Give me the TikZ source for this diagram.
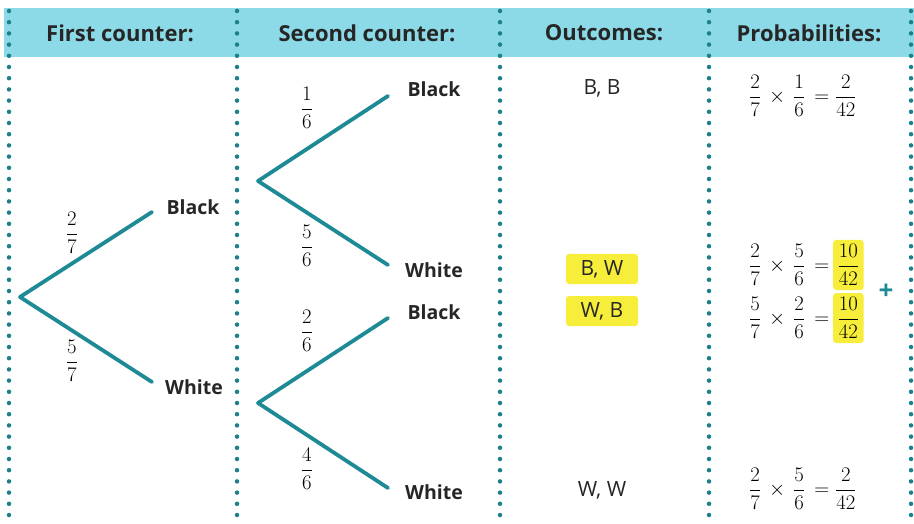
\documentclass[tikz,border=0pt]{standalone}
\usepackage[no-math]{fontspec}
\setmainfont{Open Sans}
\usepackage{amsmath}
\definecolor{band}{RGB}{140,218,232}
\definecolor{dotc}{RGB}{28,128,140}
\definecolor{branch}{RGB}{30,138,150}
\definecolor{hl}{RGB}{246,238,58}
\newcommand{\eqtimes}{\mathbin{\,\times\,}}
\newcommand{\eqeq}{\mathrel{\,=\,}}
\tikzset{
  hdr/.style={font=\fontsize{22}{24}\selectfont\bfseries, text=black!85},
  lbl/.style={font=\fontsize{19.5}{22}\selectfont\bfseries, text=black!85},
  outc/.style={font=\fontsize{21}{23}\selectfont, text=black!85},
  hlbox/.style={fill=hl, rounded corners=3pt},
  frc/.style={font=\fontsize{22}{24}\selectfont, inner sep=1pt},
  eq/.style={font=\fontsize{22.5}{24}\selectfont, inner sep=1pt},
  br/.style={draw=branch, line width=3.8pt, line cap=round, line join=round},
  dotline/.style={draw=dotc, line width=4.5pt, line cap=round, dash pattern=on 0pt off 11.2pt},
}
\begin{document}
\begin{tikzpicture}[x=1pt,y=-1pt]
\useasboundingbox (0,0) rectangle (914,524);
\fill[white] (0,0) rectangle (914,524);
\fill[band] (4,8) rectangle (914,57);
\foreach \xx/\nm in {9/a,237/b,500/c,709/d,911/e}{
  \coordinate (top\nm) at (\xx,11);
  \coordinate (bot\nm) at (\xx,524);
  \draw[dotline] (top\nm) -- (bot\nm);
}
\node[hdr] (h1) at (120,33) {First counter:};
\node[hdr] (h2) at (367,33) {Second counter:};
\node[hdr] (h3) at (604,33) {Outcomes:};
\node[hdr] (h4) at (809,33) {Probabilities:};
% first tree
\coordinate (r1) at (20,297);
\coordinate (e1) at (152,212);
\coordinate (e2) at (152,382);
\draw[br] (e1) -- (r1) -- (e2);
\node[lbl] (l1) at (193,207) {Black};
\node[lbl] (l2) at (194,387) {White};
\node[frc] (f1) at (72,233) {$\dfrac{2}{7}$};
\node[frc] (f2) at (72,361) {$\dfrac{5}{7}$};
% second tree upper
\coordinate (r2) at (258,181);
\coordinate (e3) at (388,96);
\coordinate (e4) at (388,265);
\draw[br] (e3) -- (r2) -- (e4);
\node[lbl] (l3) at (434,89) {Black};
\node[lbl] (l4) at (434,270) {White};
\node[frc] (f3) at (307,108) {$\dfrac{1}{6}$};
\node[frc] (f4) at (307,246) {$\dfrac{5}{6}$};
% second tree lower
\coordinate (r3) at (258,403);
\coordinate (e5) at (388,318);
\coordinate (e6) at (388,488);
\draw[br] (e5) -- (r3) -- (e6);
\node[lbl] (l5) at (434,312) {Black};
\node[lbl] (l6) at (434,492) {White};
\node[frc] (f5) at (307,331) {$\dfrac{2}{6}$};
\node[frc] (f6) at (307,469) {$\dfrac{4}{6}$};
% outcomes
\node[outc] (o1) at (602,88) {B, B};
\node[outc,hlbox,minimum width=72pt,minimum height=30pt] (o2) at (602,269) {B, W};
\node[outc,hlbox,minimum width=72pt,minimum height=30pt] (o3) at (602,311) {W, B};
\node[outc] (o4) at (602,490) {W, W};
% probabilities
\node[eq,anchor=east] (p1) at (834,96) {$\dfrac{2}{7}\eqtimes\dfrac{1}{6}\eqeq$};
\node[eq,anchor=west] (q1) at (p1.east) {$\dfrac{2}{42}$};
\node[eq,anchor=east] (p2) at (834,265) {$\dfrac{2}{7}\eqtimes\dfrac{5}{6}\eqeq$};
\node[eq,anchor=west,hlbox,inner xsep=4.5pt,inner ysep=2pt,minimum height=50pt] (q2) at ([xshift=-1pt]p2.east) {$\dfrac{10}{42}$};
\node[eq,anchor=east] (p3) at (834,318) {$\dfrac{5}{7}\eqtimes\dfrac{2}{6}\eqeq$};
\node[eq,anchor=west,hlbox,inner xsep=4.5pt,inner ysep=2pt,minimum height=50pt] (q3) at ([xshift=-1pt]p3.east) {$\dfrac{10}{42}$};
\node[eq,anchor=east] (p4) at (834,489) {$\dfrac{2}{7}\eqtimes\dfrac{5}{6}\eqeq$};
\node[eq,anchor=west] (q4) at (p4.east) {$\dfrac{2}{42}$};
\node[font=\fontsize{26}{26}\selectfont\bfseries, text=branch] (plus) at (886,292) {+};
\end{tikzpicture}
\end{document}
